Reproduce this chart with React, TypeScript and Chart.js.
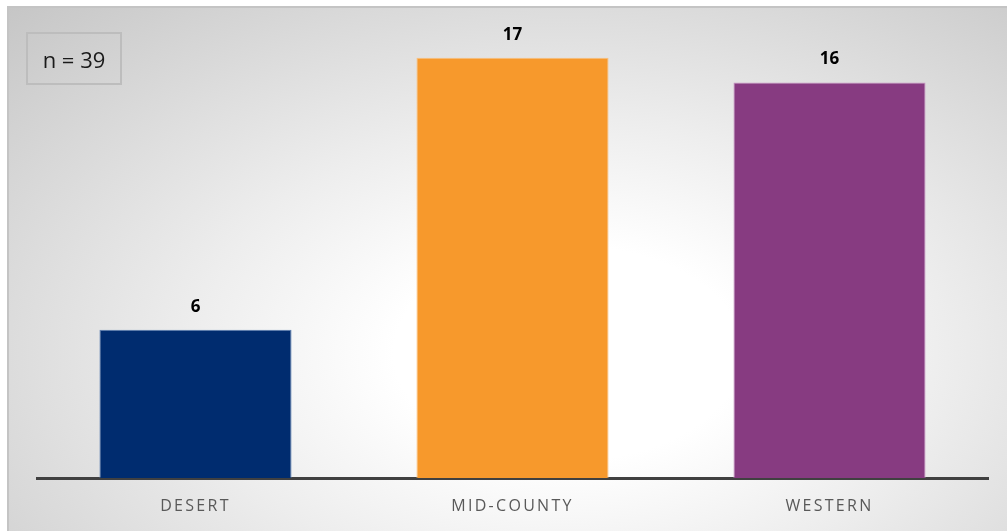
import React, { useEffect, useRef } from "react";
import { Chart, registerables } from "chart.js";

Chart.register(...registerables);

const categories: string[] = ["DESERT", "MID-COUNTY", "WESTERN"];
const counts: number[] = [6, 17, 16];
const barColors: string[] = ["#002C6F", "#F7992C", "#873B81"];
const barEdgeColors: string[] = ["#5A7DB0", "#FBC07A", "#C993C4"];
const yMax = 18;
const totalLabel = "n = 39";

const FONT = "'Open Sans', 'DejaVu Sans', sans-serif";

const letterSpacingPlugin = {
  id: "letterSpacingTicks",
  beforeDraw(chart: any) {
    (chart.ctx as any).letterSpacing = "2.3px";
  },
  beforeDatasetsDraw(chart: any) {
    (chart.ctx as any).letterSpacing = "0px";
  },
};

const valueLabelPlugin = {
  id: "valueLabels",
  afterDatasetsDraw(chart: any) {
    const ctx = chart.ctx as CanvasRenderingContext2D;
    const meta = chart.getDatasetMeta(0);
    ctx.save();
    (ctx as any).letterSpacing = "0px";
    ctx.font = `bold 17px ${FONT}`;
    ctx.fillStyle = "#000000";
    ctx.textAlign = "center";
    ctx.textBaseline = "middle";
    meta.data.forEach((bar: any, i: number) => {
      ctx.fillText(String(counts[i]), bar.x, bar.y - 23);
    });
    ctx.restore();
  },
};

export default function App() {
  const canvasRef = useRef<HTMLCanvasElement | null>(null);

  useEffect(() => {
    if (!canvasRef.current) return;
    const chart = new Chart(canvasRef.current, {
      type: "bar",
      data: {
        labels: categories,
        datasets: [
          {
            data: counts,
            backgroundColor: barColors,
            borderColor: barEdgeColors,
            borderWidth: 1,
            barPercentage: 0.606,
            categoryPercentage: 1,
          },
        ],
      },
      options: {
        animation: false,
        responsive: false,
        maintainAspectRatio: false,
        events: [],
        layout: { padding: { top: 27, left: 30, right: 19, bottom: 0 } },
        plugins: {
          legend: { display: false },
          tooltip: { enabled: false },
          title: { display: false },
        },
        scales: {
          x: {
            grid: { display: false, drawTicks: false },
            border: { display: true, color: "#404040", width: 3 },
            ticks: {
              color: "#595959",
              font: { family: FONT, size: 16 },
              padding: 19,
            },
            afterFit: (scale: any) => {
              scale.height = 53;
            },
          },
          y: {
            display: false,
            min: 0,
            max: yMax,
          },
        },
      },
      plugins: [letterSpacingPlugin, valueLabelPlugin],
    });
    return () => chart.destroy();
  }, []);

  return (
    <div
      style={{
        position: "absolute",
        left: 7,
        top: 6,
        width: 1000,
        height: 525,
        boxSizing: "border-box",
        borderTop: "2px solid #c4c4c4",
        borderLeft: "2px solid #c4c4c4",
        background:
          "radial-gradient(ellipse at 56% 66%, #ffffff 0%, #ffffff 22%, #ededed 48%, #c6c6c6 100%)",
        overflow: "hidden",
      }}
    >
      <canvas
        ref={canvasRef}
        width={1000}
        height={525}
        style={{ position: "absolute", left: -2, top: -2, width: 1000, height: 525 }}
      />
      <div
        style={{
          position: "absolute",
          left: 17,
          top: 24,
          width: 96,
          height: 53,
          boxSizing: "border-box",
          border: "2px solid #bdbdbd",
          display: "flex",
          alignItems: "center",
          justifyContent: "center",
          fontFamily: FONT,
          fontSize: 22,
          color: "#1a1a1a",
        }}
      >
        {totalLabel}
      </div>
    </div>
  );
}
